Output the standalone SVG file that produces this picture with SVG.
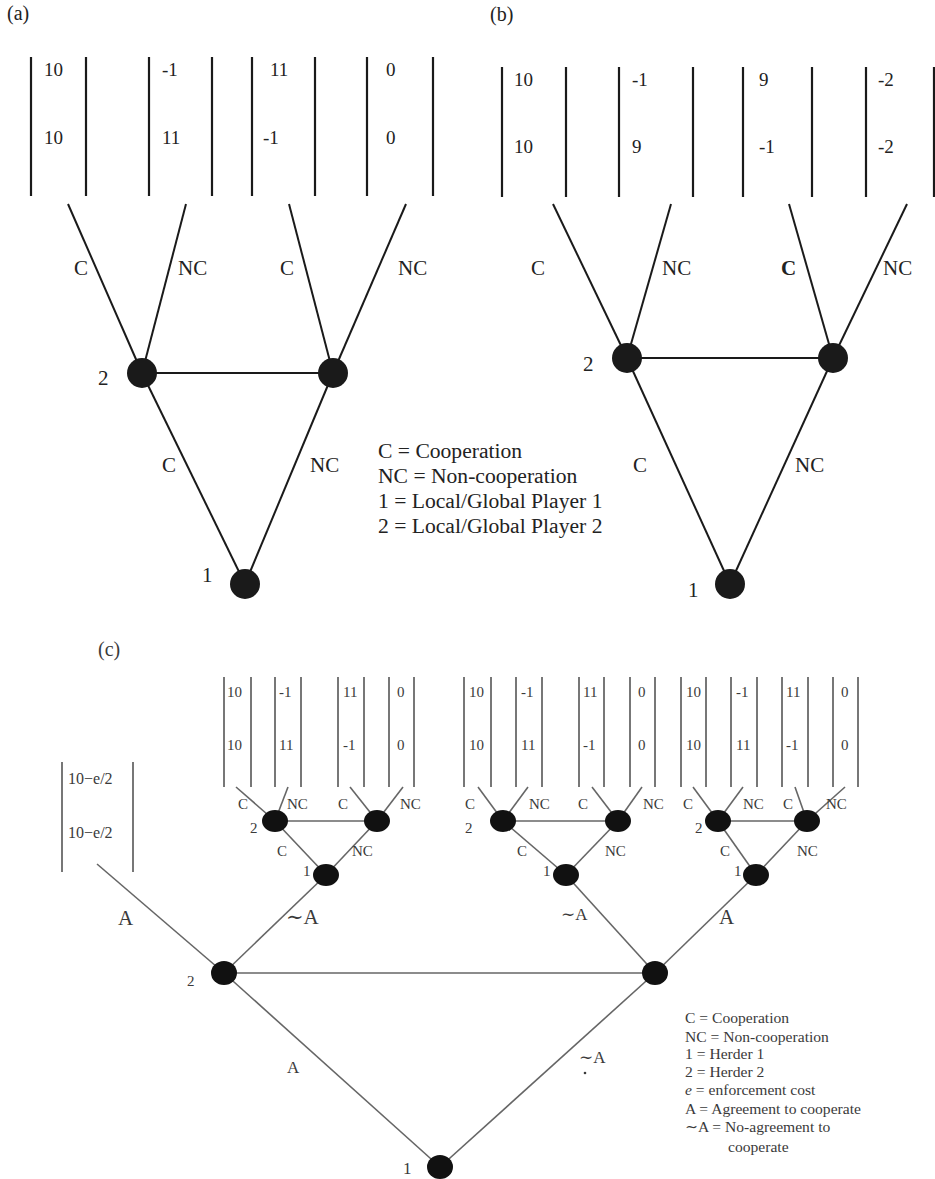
<svg xmlns="http://www.w3.org/2000/svg" width="935" height="1179" viewBox="0 0 935 1179" font-family="'Liberation Serif', 'DejaVu Serif', serif">
<style>
text{font-family:"Liberation Serif","DejaVu Serif",serif;fill:#222}
.pan{font-size:20px}
.pay{font-size:19px}
.lab{font-size:21px}
.leg{font-size:21.6px}
.bar{stroke:#1a1a1a;stroke-width:2.2}
.ln{stroke:#1a1a1a;stroke-width:2;fill:none}
.nd{fill:#1a1a1a}
.c text{fill:#3a3a3a}
.cbar{stroke:#777;stroke-width:2}
.cln{stroke:#666;stroke-width:1.6;fill:none}
.cnd{fill:#111}
.cpay{font-size:15px}
.cpay2{font-size:16px}
.clab{font-size:15px}
.cbig{font-size:21px}
.cmid{font-size:17px}
.cleg{font-size:15.6px}
</style>

<!-- Panel (a) -->
<g id="panel-a">
<text class="pan" x="7" y="20">(a)</text>
<g id="a-payoffs">
<g class="bar"><line x1="31" y1="57" x2="31" y2="196"/><line x1="86" y1="57" x2="86" y2="196"/><line x1="149" y1="57" x2="149" y2="196"/><line x1="212" y1="57" x2="212" y2="196"/><line x1="252" y1="57" x2="252" y2="196"/><line x1="315" y1="57" x2="315" y2="196"/><line x1="367" y1="57" x2="367" y2="196"/><line x1="433" y1="57" x2="433" y2="196"/></g>
<g class="pay"><text x="44" y="76">10</text><text x="44" y="144">10</text><text x="162" y="76">-1</text><text x="162" y="144">11</text><text x="270" y="76">11</text><text x="263" y="144">-1</text><text x="386" y="76">0</text><text x="386" y="144">0</text></g>
</g>
<g id="a-connectors" class="ln">
<line x1="68" y1="204" x2="142" y2="373"/><line x1="186" y1="204" x2="142" y2="373"/><line x1="289" y1="204" x2="333" y2="373"/><line x1="406" y1="204" x2="333" y2="373"/><line x1="142" y1="373" x2="333" y2="373"/><line x1="142" y1="373" x2="245" y2="584"/><line x1="333" y1="373" x2="245" y2="584"/>
</g>
<g class="lab"><text x="74" y="275">C</text><text x="178" y="275">NC</text><text x="280" y="275">C</text><text x="398" y="275">NC</text><text x="162" y="472">C</text><text x="310" y="472">NC</text></g>
<g id="a-node-2L"><circle class="nd" cx="142" cy="373" r="15"/><text class="lab" x="98" y="385">2</text></g>
<g id="a-node-2R"><circle class="nd" cx="333" cy="373" r="15"/></g>
<g id="a-node-1"><circle class="nd" cx="245" cy="584" r="15"/><text class="lab" x="202" y="582">1</text></g>
<g id="a-legend" class="leg"><text x="378" y="458">C = Cooperation</text><text x="378" y="483">NC = Non-cooperation</text><text x="378" y="508">1 = Local/Global Player 1</text><text x="378" y="533">2 = Local/Global Player 2</text></g>
</g>

<!-- Panel (b) -->
<g id="panel-b">
<text class="pan" x="490" y="21">(b)</text>
<g id="b-payoffs">
<g class="bar"><line x1="502" y1="67" x2="502" y2="197"/><line x1="566" y1="67" x2="566" y2="197"/><line x1="619" y1="67" x2="619" y2="197"/><line x1="693" y1="67" x2="693" y2="197"/><line x1="743" y1="67" x2="743" y2="197"/><line x1="812" y1="67" x2="812" y2="197"/><line x1="866" y1="67" x2="866" y2="197"/><line x1="934" y1="67" x2="934" y2="197"/></g>
<g class="pay"><text x="514" y="86">10</text><text x="514" y="153">10</text><text x="632" y="86">-1</text><text x="632" y="153">9</text><text x="759" y="86">9</text><text x="759" y="153">-1</text><text x="878" y="86">-2</text><text x="878" y="153">-2</text></g>
</g>
<g id="b-connectors" class="ln">
<line x1="553" y1="204" x2="627" y2="358"/><line x1="671" y1="204" x2="627" y2="358"/><line x1="789" y1="204" x2="833" y2="358"/><line x1="907" y1="204" x2="833" y2="358"/><line x1="627" y1="358" x2="833" y2="358"/><line x1="627" y1="358" x2="730" y2="584"/><line x1="833" y1="358" x2="730" y2="584"/>
</g>
<g class="lab"><text x="531" y="275">C</text><text x="662" y="275">NC</text><text x="781" y="275" font-weight="bold">C</text><text x="883" y="275">NC</text><text x="633" y="472">C</text><text x="795" y="472">NC</text></g>
<g id="b-node-2L"><circle class="nd" cx="627" cy="358" r="15"/><text class="lab" x="583" y="371">2</text></g>
<g id="b-node-2R"><circle class="nd" cx="833" cy="358" r="15"/></g>
<g id="b-node-1"><circle class="nd" cx="730" cy="584" r="15"/><text class="lab" x="688" y="597">1</text></g>
</g>

<!-- Panel (c) -->
<g id="panel-c" class="c">
<text class="pan" x="98" y="656">(c)</text>

<g id="c-payoffs">
<g class="cbar">
<line x1="62" y1="762" x2="62" y2="872"/><line x1="133" y1="762" x2="133" y2="872"/>
<line x1="224" y1="677" x2="224" y2="787"/><line x1="251" y1="677" x2="251" y2="787"/><line x1="275" y1="677" x2="275" y2="787"/><line x1="301" y1="677" x2="301" y2="787"/><line x1="338" y1="677" x2="338" y2="787"/><line x1="364" y1="677" x2="364" y2="787"/><line x1="389" y1="677" x2="389" y2="787"/><line x1="414" y1="677" x2="414" y2="787"/>
<line x1="464" y1="677" x2="464" y2="787"/><line x1="491" y1="677" x2="491" y2="787"/><line x1="516" y1="677" x2="516" y2="787"/><line x1="542" y1="677" x2="542" y2="787"/><line x1="579" y1="677" x2="579" y2="787"/><line x1="604" y1="677" x2="604" y2="787"/><line x1="630" y1="677" x2="630" y2="787"/><line x1="655" y1="677" x2="655" y2="787"/>
<line x1="681" y1="677" x2="681" y2="787"/><line x1="706" y1="677" x2="706" y2="787"/><line x1="731" y1="677" x2="731" y2="787"/><line x1="757" y1="677" x2="757" y2="787"/><line x1="782" y1="677" x2="782" y2="787"/><line x1="808" y1="677" x2="808" y2="787"/><line x1="833" y1="677" x2="833" y2="787"/><line x1="858" y1="677" x2="858" y2="787"/>
</g>
<g class="cpay2"><text x="68" y="784">10−e/2</text><text x="68" y="838">10−e/2</text></g>
<g class="cpay">
<text x="227" y="697">10</text><text x="227" y="750">10</text><text x="279" y="697">-1</text><text x="279" y="750">11</text><text x="343" y="697">11</text><text x="343" y="750">-1</text><text x="397" y="697">0</text><text x="397" y="750">0</text>
<text x="469" y="697">10</text><text x="469" y="750">10</text><text x="521" y="697">-1</text><text x="521" y="750">11</text><text x="583" y="697">11</text><text x="583" y="750">-1</text><text x="638" y="697">0</text><text x="638" y="750">0</text>
<text x="686" y="697">10</text><text x="686" y="750">10</text><text x="736" y="697">-1</text><text x="736" y="750">11</text><text x="786" y="697">11</text><text x="786" y="750">-1</text><text x="841" y="697">0</text><text x="841" y="750">0</text>
</g>
</g>

<g id="c-connectors" class="cln">
<line x1="236" y1="787" x2="275" y2="821"/><line x1="288" y1="787" x2="275" y2="821"/><line x1="350" y1="787" x2="377" y2="821"/><line x1="403" y1="787" x2="377" y2="821"/>
<line x1="275" y1="821" x2="377" y2="821"/><line x1="275" y1="821" x2="326" y2="875"/><line x1="377" y1="821" x2="326" y2="875"/>
<line x1="478" y1="787" x2="503" y2="821"/><line x1="528" y1="787" x2="503" y2="821"/><line x1="592" y1="787" x2="618" y2="821"/><line x1="642" y1="787" x2="618" y2="821"/>
<line x1="503" y1="821" x2="618" y2="821"/><line x1="503" y1="821" x2="566" y2="875"/><line x1="618" y1="821" x2="566" y2="875"/>
<line x1="693" y1="787" x2="718" y2="821"/><line x1="743" y1="787" x2="718" y2="821"/><line x1="795" y1="787" x2="807" y2="821"/><line x1="845" y1="787" x2="807" y2="821"/>
<line x1="718" y1="821" x2="807" y2="821"/><line x1="718" y1="821" x2="756" y2="875"/><line x1="807" y1="821" x2="756" y2="875"/>
<line x1="97" y1="864" x2="224" y2="973"/><line x1="224" y1="973" x2="326" y2="875"/><line x1="224" y1="973" x2="655" y2="973"/><line x1="224" y1="973" x2="440" y2="1167"/>
<line x1="655" y1="973" x2="566" y2="875"/><line x1="655" y1="973" x2="756" y2="875"/><line x1="655" y1="973" x2="440" y2="1167"/>
</g>

<g class="clab">
<text x="238" y="809">C</text><text x="287" y="809">NC</text><text x="338" y="809">C</text><text x="400" y="809">NC</text><text x="277" y="856">C</text><text x="352" y="856">NC</text>
<text x="465" y="809">C</text><text x="529" y="809">NC</text><text x="578" y="809">C</text><text x="643" y="809">NC</text><text x="517" y="856">C</text><text x="605" y="856">NC</text>
<text x="683" y="809">C</text><text x="743" y="809">NC</text><text x="783" y="809">C</text><text x="826" y="809">NC</text><text x="720" y="856">C</text><text x="797" y="856">NC</text>
</g>
<g class="cbig"><text x="118" y="925">A</text><text x="286" y="924">∼A</text><text x="719" y="924">A</text></g>
<g class="cmid"><text x="561" y="920">∼A</text><text x="287" y="1073">A</text><text x="579" y="1063">∼A</text></g>
<circle cx="585" cy="1073" r="1.3" fill="#3a3a3a"/>

<g id="c-s1-node-2"><ellipse class="cnd" cx="275" cy="821" rx="13" ry="11"/><text class="clab" x="250" y="833">2</text></g>
<g id="c-s1-node-2R"><ellipse class="cnd" cx="377" cy="821" rx="13" ry="11"/></g>
<g id="c-s1-node-1"><ellipse class="cnd" cx="326" cy="875" rx="13" ry="11"/><text class="clab" x="303" y="876">1</text></g>
<g id="c-s2-node-2"><ellipse class="cnd" cx="503" cy="821" rx="13" ry="11"/><text class="clab" x="465" y="833">2</text></g>
<g id="c-s2-node-2R"><ellipse class="cnd" cx="618" cy="821" rx="13" ry="11"/></g>
<g id="c-s2-node-1"><ellipse class="cnd" cx="566" cy="875" rx="13" ry="11"/><text class="clab" x="543" y="876">1</text></g>
<g id="c-s3-node-2"><ellipse class="cnd" cx="718" cy="821" rx="13" ry="11"/><text class="clab" x="695" y="833">2</text></g>
<g id="c-s3-node-2R"><ellipse class="cnd" cx="807" cy="821" rx="13" ry="11"/></g>
<g id="c-s3-node-1"><ellipse class="cnd" cx="756" cy="875" rx="13" ry="11"/><text class="clab" x="734" y="876">1</text></g>
<g id="c-node-2L"><ellipse class="cnd" cx="224" cy="973" rx="13" ry="12"/><text class="clab" x="187" y="986">2</text></g>
<g id="c-node-2R"><ellipse class="cnd" cx="655" cy="973" rx="13" ry="12"/></g>
<g id="c-node-1"><ellipse class="cnd" cx="440" cy="1167" rx="13" ry="12"/><text class="cmid" x="403" y="1174">1</text></g>

<g id="c-legend" class="cleg">
<text x="685" y="1023">C = Cooperation</text>
<text x="685" y="1042">NC = Non-cooperation</text>
<text x="685" y="1059">1 = Herder 1</text>
<text x="685" y="1077">2 = Herder 2</text>
<text x="685" y="1095"><tspan font-style="italic">e</tspan> = enforcement cost</text>
<text x="685" y="1114">A = Agreement to cooperate</text>
<text x="685" y="1132">∼A = No-agreement to</text>
<text x="728" y="1152">cooperate</text>
</g>
</g>
</svg>
